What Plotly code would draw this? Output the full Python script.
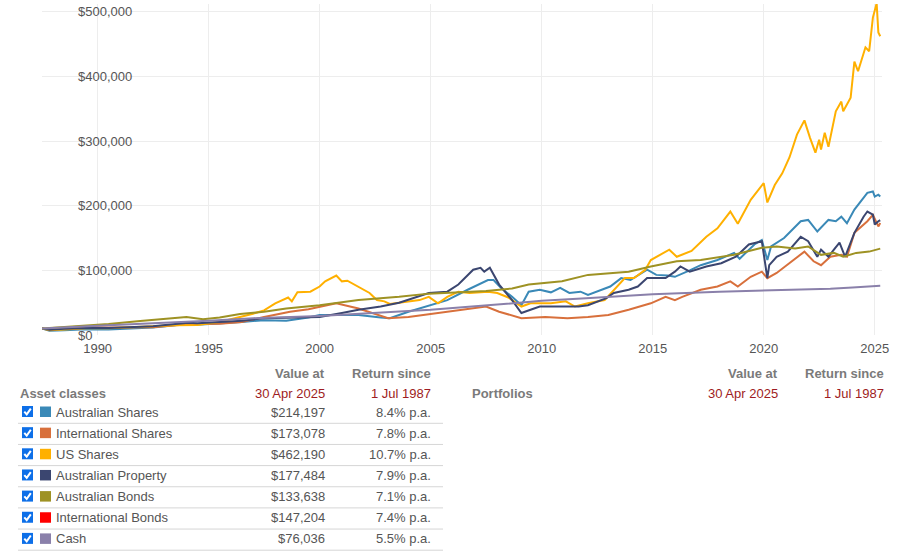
import plotly.graph_objects as go

# ---------------- data ----------------
aus_shares_dates = ["1987-07", "1987-11", "1988-07", "1989-07", "1990-07", "1991-07", "1992-07", "1993-07", "1994-01", "1994-07",
                    "1995-07", "1996-07", "1997-07", "1998-07", "1999-07", "2000-01", "2000-10", "2001-10", "2002-10", "2003-03",
                    "2004-01", "2004-12", "2005-10", "2006-09", "2007-08", "2007-11", "2008-03", "2008-09", "2009-02", "2009-06",
                    "2009-12", "2010-06", "2010-11", "2011-04", "2011-10", "2012-02", "2013-02", "2013-08", "2014-01", "2014-10",
                    "2015-03", "2015-09", "2016-01", "2016-09", "2017-03", "2017-12", "2018-09", "2018-12", "2019-08", "2019-12",
                    "2020-03", "2020-05", "2020-12", "2021-09", "2022-01", "2022-06", "2022-12", "2023-04", "2023-07", "2023-10",
                    "2024-02", "2024-09", "2024-12", "2025-01", "2025-03", "2025-04"]
aus_shares_vals = [10000, 6500, 7500, 9000, 8500, 10500, 11500, 15000, 18000, 16000,
                   17500, 20000, 23000, 22000, 27000, 31000, 31000, 31000, 27000, 26000,
                   36000, 46000, 54000, 70000, 85000, 85000, 73000, 59000, 46000, 67000,
                   70000, 66000, 73000, 65000, 67000, 62000, 75000, 88000, 85000, 101000,
                   93000, 92000, 90000, 100000, 108000, 116000, 127000, 118000, 140000, 147000,
                   116000, 137000, 150000, 176000, 178000, 160000, 178000, 176000, 183000, 173000,
                   194000, 220000, 222000, 214000, 217000, 214197]

intl_shares_dates = ["1987-07", "1987-11", "1988-07", "1989-07", "1990-07", "1991-07", "1992-07", "1993-07", "1994-07", "1995-07",
                     "1996-07", "1997-07", "1998-09", "1999-07", "2000-01", "2000-10", "2001-10", "2002-09", "2003-02", "2004-01",
                     "2005-05", "2006-04", "2007-07", "2008-02", "2009-02", "2010-03", "2011-03", "2012-02", "2013-01", "2013-12",
                     "2014-12", "2015-08", "2016-01", "2016-05", "2017-03", "2017-12", "2018-07", "2018-11", "2019-06", "2019-12",
                     "2020-03", "2020-08", "2021-03", "2021-11", "2022-04", "2022-08", "2023-01", "2023-07", "2023-10", "2024-02",
                     "2024-09", "2024-12", "2025-03", "2025-04"]
intl_shares_vals = [10000, 8500, 10000, 12500, 11500, 11500, 12000, 15000, 17000, 17500,
                    20000, 28000, 36000, 40000, 44000, 49000, 41000, 31000, 26000, 28000,
                    34000, 39000, 44000, 36000, 26000, 28000, 26000, 28000, 31000, 39000,
                    49000, 59000, 54000, 59000, 70000, 75000, 83000, 75000, 90000, 98000,
                    88000, 96000, 111000, 129000, 114000, 108000, 121000, 124000, 121000, 158000,
                    176000, 186000, 168000, 173078]

us_shares_dates = ["1987-07", "1987-11", "1988-07", "1989-07", "1990-07", "1991-07", "1992-07", "1993-07", "1994-07", "1995-07",
                   "1996-01", "1996-07", "1997-01", "1997-07", "1998-01", "1998-08", "1998-10", "1999-01", "1999-08", "2000-01",
                   "2000-04", "2000-10", "2001-01", "2001-04", "2001-10", "2002-04", "2002-08", "2002-12", "2003-03", "2003-08",
                   "2004-07", "2004-12", "2005-05", "2005-10", "2006-04", "2006-10", "2007-08", "2008-01", "2008-07", "2009-02",
                   "2009-07", "2010-06", "2011-02", "2011-07", "2012-02", "2012-11", "2013-04", "2013-10", "2014-03", "2014-09",
                   "2014-12", "2015-08", "2015-10", "2016-02", "2016-10", "2017-06", "2017-12", "2018-07", "2018-11", "2019-06",
                   "2020-01", "2020-03", "2020-07", "2020-11", "2021-03", "2021-07", "2021-11", "2022-02", "2022-05", "2022-07",
                   "2022-08", "2022-10", "2022-12", "2023-04", "2023-07", "2023-08", "2023-12", "2024-02", "2024-04", "2024-08",
                   "2024-10", "2024-12", "2025-02", "2025-03", "2025-04"]
us_shares_vals = [10000, 7500, 8500, 10500, 10500, 12500, 13500, 15000, 15500, 20000,
                  24000, 28000, 33000, 38000, 49000, 58000, 52000, 66000, 67000, 75000,
                  83000, 92000, 83000, 84000, 75000, 65000, 54000, 52000, 48000, 50000,
                  54000, 59000, 49000, 59000, 67000, 65000, 67000, 65000, 58000, 44000,
                  49000, 49000, 52000, 44000, 49000, 54000, 70000, 88000, 88000, 101000,
                  116000, 129000, 132000, 121000, 130000, 152000, 165000, 191000, 172000, 209000,
                  235000, 205000, 232000, 250000, 275000, 310000, 332000, 305000, 282000, 302000,
                  287000, 313000, 291000, 346000, 361000, 346000, 367000, 423000, 408000, 445000,
                  439000, 491000, 513000, 468000, 462190]

aus_prop_dates = ["1987-07", "1987-11", "1988-07", "1989-07", "1990-07", "1991-07", "1992-07", "1993-07", "1994-02", "1994-07",
                  "1995-07", "1996-07", "1997-07", "1998-07", "1999-07", "2000-01", "2001-01", "2001-10", "2002-10", "2003-08",
                  "2004-12", "2005-10", "2006-04", "2006-12", "2007-04", "2007-06", "2007-09", "2008-02", "2008-09", "2009-02",
                  "2009-07", "2009-12", "2010-10", "2011-09", "2012-02", "2012-12", "2013-04", "2013-12", "2014-05", "2014-10",
                  "2015-08", "2016-01", "2016-04", "2016-09", "2017-06", "2018-02", "2018-10", "2019-05", "2019-12", "2020-03",
                  "2020-04", "2020-08", "2021-02", "2021-09", "2022-01", "2022-06", "2022-08", "2022-12", "2023-03", "2023-06",
                  "2023-09", "2024-02", "2024-07", "2024-09", "2024-12", "2025-01", "2025-03", "2025-04"]
aus_prop_vals = [10000, 8000, 9500, 11000, 11000, 12500, 13500, 17000, 19000, 18000,
                 19500, 22000, 26000, 27000, 27000, 28000, 34000, 39000, 44000, 50000,
                 65000, 67000, 78000, 101000, 104000, 98000, 104000, 78000, 54000, 34000,
                 39000, 44000, 44000, 44000, 46000, 57000, 65000, 70000, 75000, 88000,
                 88000, 98000, 106000, 98000, 106000, 111000, 121000, 140000, 145000, 88000,
                 108000, 121000, 129000, 152000, 145000, 121000, 132000, 121000, 132000, 143000,
                 121000, 158000, 183000, 191000, 186000, 171000, 176000, 177484]

aus_bonds_dates = ["1987-07", "1988-07", "1989-10", "1990-07", "1991-12", "1993-01", "1994-01", "1994-10", "1995-07", "1996-06",
                   "1997-07", "1998-07", "2000-01", "2001-10", "2003-08", "2004-12", "2006-06", "2007-07", "2008-09", "2009-06",
                   "2010-12", "2012-02", "2013-12", "2014-12", "2016-02", "2017-03", "2018-09", "2019-12", "2020-08", "2021-06",
                   "2022-01", "2022-08", "2023-03", "2023-08", "2024-03", "2024-10", "2025-04"]
aus_bonds_vals = [10000, 12000, 15500, 17000, 21700, 25000, 28000, 24500, 27000, 32500,
                  36000, 41000, 46000, 54000, 59000, 64000, 66000, 68000, 72000, 78000,
                  83000, 93000, 98000, 106000, 114000, 116000, 124000, 135000, 137000, 134000,
                  137000, 124000, 127000, 121000, 127000, 129000, 133638]

cash_dates = ["1987-07", "1990-01", "1995-01", "1997-01", "2000-01", "2005-01", "2008-01", "2010-01", "2012-01", "2015-01",
              "2018-01", "2020-01", "2022-01", "2023-01", "2024-01", "2025-04"]
cash_vals = [10000, 14500, 22000, 26000, 29500, 39000, 47000, 53000, 57000, 63000,
             67000, 69000, 70000, 71500, 73500, 76036]

y_tick_vals = [0, 100000, 200000, 300000, 400000, 500000]
y_tick_text = ["$0", "$100,000", "$200,000", "$300,000", "$400,000", "$500,000"]

asset_names = ["Australian Shares", "International Shares", "US Shares", "Australian Property",
               "Australian Bonds", "International Bonds", "Cash"]
asset_colors = ["#3a89b7", "#d8703c", "#ffb000", "#3b4670", "#9e9224", "#ff0000", "#8a80aa"]
asset_values = ["$214,197", "$173,078", "$462,190", "$177,484", "$133,638", "$147,204", "$76,036"]
asset_returns = ["8.4% p.a.", "7.8% p.a.", "10.7% p.a.", "7.9% p.a.", "7.1% p.a.", "7.4% p.a.", "5.5% p.a."]

value_header = "Value at"
return_header = "Return since"
value_date = "30 Apr 2025"
return_date = "1 Jul 1987"

# ---------------- layout helpers ----------------
W, H = 900, 552
L, R, T, B = 42, 18, 4, 217
PW = W - L - R
PH = H - T - B


def fx(x):
    return (x - L) / PW


def fy(y):
    return (H - B - y) / PH


FONT = "Arial, Liberation Sans, sans-serif"
GREY = "#555555"
HEAD = "#7a7a7a"
RED = "#9e1c22"

fig = go.Figure()

series = [
    (aus_shares_dates, aus_shares_vals, asset_names[0], asset_colors[0]),
    (intl_shares_dates, intl_shares_vals, asset_names[1], asset_colors[1]),
    (us_shares_dates, us_shares_vals, asset_names[2], asset_colors[2]),
    (aus_prop_dates, aus_prop_vals, asset_names[3], asset_colors[3]),
    (aus_bonds_dates, aus_bonds_vals, asset_names[4], asset_colors[4]),
    (cash_dates, cash_vals, asset_names[6], asset_colors[6]),
]
for d, v, n, c in series:
    fig.add_trace(go.Scatter(x=d, y=v, name=n, mode="lines",
                             line=dict(color=c, width=2), showlegend=False))

annotations = []
shapes = []

# y-axis labels drawn inside the plot area
for v, t in zip(y_tick_vals, y_tick_text):
    annotations.append(dict(xref="paper", yref="y", x=fx(76), y=v, text=t, xanchor="left",
                            yanchor="middle", showarrow=False, font=dict(size=13, color=GREY, family=FONT)))

tbl = [
    dict(x=fx(327), y=fy(373), text="<b>" + value_header + "</b>", xanchor="right", font=dict(size=13, color=HEAD)),
    dict(x=fx(433), y=fy(373), text="<b>" + return_header + "</b>", xanchor="right", font=dict(size=13, color=HEAD)),
    dict(x=fx(18), y=fy(393), text="<b>Asset classes</b>", xanchor="left", font=dict(size=13, color=HEAD)),
    dict(x=fx(327), y=fy(393), text=value_date, xanchor="right", font=dict(size=13, color=RED)),
    dict(x=fx(433), y=fy(393), text=return_date, xanchor="right", font=dict(size=13, color=RED)),
    dict(x=fx(470), y=fy(393), text="<b>Portfolios</b>", xanchor="left", font=dict(size=13, color=HEAD)),
    dict(x=fx(780), y=fy(373), text="<b>" + value_header + "</b>", xanchor="right", font=dict(size=13, color=HEAD)),
    dict(x=fx(886), y=fy(373), text="<b>" + return_header + "</b>", xanchor="right", font=dict(size=13, color=HEAD)),
    dict(x=fx(780), y=fy(393), text=value_date, xanchor="right", font=dict(size=13, color=RED)),
    dict(x=fx(886), y=fy(393), text=return_date, xanchor="right", font=dict(size=13, color=RED)),
]

row0 = 412.0
step = 21.15
for i, name in enumerate(asset_names):
    yc = row0 + i * step
    tbl += [
        dict(x=fx(54), y=fy(yc), text=name, xanchor="left", font=dict(size=13, color=GREY)),
        dict(x=fx(327), y=fy(yc), text=asset_values[i], xanchor="right", font=dict(size=13, color=GREY)),
        dict(x=fx(433), y=fy(yc), text=asset_returns[i], xanchor="right", font=dict(size=13, color=GREY)),
    ]
    shapes.append(dict(type="line", xref="paper", yref="paper", x0=fx(18), x1=fx(443),
                       y0=fy(yc + 11.3), y1=fy(yc + 11.3), line=dict(color="#d6d6d6", width=1)))
    shapes.append(dict(type="rect", xref="paper", yref="paper", x0=fx(40), x1=fx(51),
                       y0=fy(yc + 5), y1=fy(yc - 5.5), fillcolor=asset_colors[i], line=dict(width=0)))
    shapes.append(dict(type="rect", xref="paper", yref="paper", x0=fx(22), x1=fx(33),
                       y0=fy(yc + 5), y1=fy(yc - 6), fillcolor="#0d6fe8", line=dict(width=0)))
    path = "M %f,%f L %f,%f L %f,%f" % (fx(24.3), fy(yc - 0.3), fx(26.7), fy(yc + 2.4), fx(30.8), fy(yc - 3.4))
    shapes.append(dict(type="path", xref="paper", yref="paper", path=path,
                       line=dict(color="white", width=2)))

for a in tbl:
    a.update(xref="paper", yref="paper", yanchor="middle", showarrow=False)
    a["font"]["family"] = FONT
annotations += tbl

fig.update_layout(
    width=W, height=H,
    margin=dict(l=L, r=R, t=T, b=B, pad=0),
    paper_bgcolor="white", plot_bgcolor="white",
    font=dict(family=FONT, size=13, color=GREY),
    annotations=annotations, shapes=shapes,
    xaxis=dict(type="date", range=["1987-07-01", "2025-04-30"], dtick="M60", tick0="1990-01-01",
               tickformat="%Y", showgrid=True, gridcolor="#ededed", gridwidth=1, zeroline=False,
               showline=False, ticks="", ticklabelstandoff=4, tickfont=dict(size=13, color=GREY)),
    yaxis=dict(range=[0, 512000], tickvals=y_tick_vals, showticklabels=False, showgrid=True,
               gridcolor="#ededed", gridwidth=1, zeroline=False, showline=False, ticks=""),
)

fig.write_html("out.html", config={"displayModeBar": False},
               post_script="document.body.style.margin='0px';")
